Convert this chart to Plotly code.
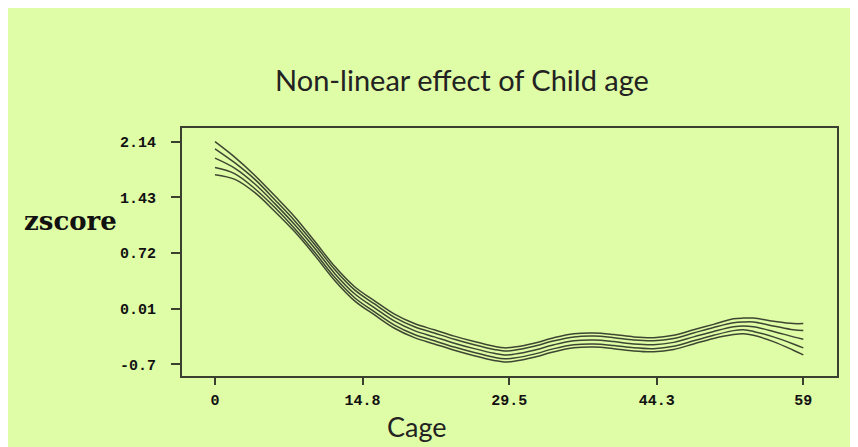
import plotly.graph_objects as go

# ---- data ----
ages = [0, 2, 4, 6, 8, 10, 12, 14, 16, 18, 20, 22, 24, 26, 28, 29, 30, 32, 34, 36,
        38, 40, 42, 44, 46, 48, 50, 52, 53, 54, 56, 58, 59]

center = [1.93, 1.80, 1.60, 1.35, 1.08, 0.78, 0.46, 0.20, 0.02, -0.15, -0.27, -0.35,
          -0.43, -0.50, -0.56, -0.58, -0.57, -0.52, -0.45, -0.40, -0.39, -0.41, -0.44,
          -0.45, -0.42, -0.35, -0.28, -0.22, -0.21, -0.22, -0.28, -0.35, -0.38]

upper95 = [2.14, 1.94, 1.71, 1.45, 1.18, 0.87, 0.55, 0.29, 0.11, -0.06, -0.18, -0.26,
           -0.34, -0.41, -0.47, -0.49, -0.48, -0.43, -0.36, -0.31, -0.30, -0.32, -0.35,
           -0.36, -0.33, -0.26, -0.19, -0.12, -0.11, -0.11, -0.15, -0.18, -0.18]

lower95 = [1.72, 1.66, 1.49, 1.25, 0.99, 0.69, 0.37, 0.11, -0.07, -0.24, -0.36, -0.44,
           -0.52, -0.59, -0.65, -0.67, -0.66, -0.61, -0.54, -0.49, -0.48, -0.50, -0.53,
           -0.54, -0.51, -0.44, -0.37, -0.32, -0.31, -0.33, -0.41, -0.52, -0.58]

upper80 = [2.05, 1.87, 1.66, 1.40, 1.13, 0.83, 0.51, 0.25, 0.07, -0.10, -0.22, -0.30,
           -0.38, -0.45, -0.51, -0.53, -0.52, -0.47, -0.40, -0.35, -0.34, -0.36, -0.39,
           -0.40, -0.37, -0.30, -0.23, -0.17, -0.16, -0.16, -0.21, -0.26, -0.27]

lower80 = [1.81, 1.73, 1.54, 1.30, 1.03, 0.73, 0.41, 0.15, -0.03, -0.20, -0.32, -0.40,
           -0.48, -0.55, -0.61, -0.63, -0.62, -0.57, -0.50, -0.45, -0.44, -0.46, -0.49,
           -0.50, -0.47, -0.40, -0.33, -0.27, -0.26, -0.28, -0.35, -0.44, -0.49]

x_ticks = [0, 14.8, 29.5, 44.3, 59]
x_tick_labels = ["0", "14.8", "29.5", "44.3", "59"]
y_ticks = [-0.7, 0.01, 0.72, 1.43, 2.14]
y_tick_labels = ["-0.7", "0.01", "0.72", "1.43", "2.14"]

title_text = "Non-linear effect of Child age"
x_title = "Cage"
y_title = "zscore"

# ---- styling ----
BG = "#dffca6"
LINE = "#3d4632"
AXIS = "#3a3f30"

fig = go.Figure()
for series in [upper95, upper80, center, lower80, lower95]:
    fig.add_trace(go.Scatter(
        x=ages, y=series, mode="lines",
        line=dict(color=LINE, width=1.5, shape="spline", smoothing=1.0),
        showlegend=False, hoverinfo="skip",
    ))

tickfont = dict(family="Liberation Mono, DejaVu Sans Mono, monospace",
                size=15, color="#111111", weight="bold")

fig.update_layout(
    width=858, height=447,
    margin=dict(l=174, r=29, t=120, b=79),
    paper_bgcolor=BG, plot_bgcolor=BG,
    showlegend=False,
    xaxis=dict(
        range=[-3.31, 62.38], tickmode="array", tickvals=x_ticks, ticktext=x_tick_labels,
        showgrid=False, zeroline=False, showline=True, mirror=True,
        linecolor=AXIS, linewidth=2, ticks="outside", ticklen=7, tickwidth=1.5,
        tickcolor=AXIS, tickfont=tickfont, ticklabelstandoff=2,
    ),
    yaxis=dict(
        range=[-0.849, 2.315], tickmode="array", tickvals=y_ticks, ticktext=y_tick_labels,
        showgrid=False, zeroline=False, showline=True, mirror=True,
        linecolor=AXIS, linewidth=2, ticks="outside", ticklen=9, tickwidth=1.5,
        tickcolor=AXIS, tickfont=tickfont, ticklabelstandoff=12,
    ),
    annotations=[
        dict(text=title_text, xref="paper", yref="paper", x=(462 - 182) / 655,
             y=(376 - 80) / 248, xanchor="center", yanchor="middle", showarrow=False,
             font=dict(family="Lato, Open Sans, sans-serif", size=29, color="#222222")),
        dict(text=x_title, xref="paper", yref="paper", x=(417 - 182) / 655,
             y=(376 - 426) / 248, xanchor="center", yanchor="middle", showarrow=False,
             font=dict(family="Lato, Open Sans, sans-serif", size=27, color="#222222")),
        dict(text=y_title, xref="paper", yref="paper", x=(70 - 182) / 655,
             y=(376 - 221) / 248, xanchor="center", yanchor="middle", showarrow=False,
             font=dict(family="DejaVu Serif, Liberation Serif, serif", size=26,
                       color="#111111", weight="bold")),
    ],
)

fig.write_html("out.html")
